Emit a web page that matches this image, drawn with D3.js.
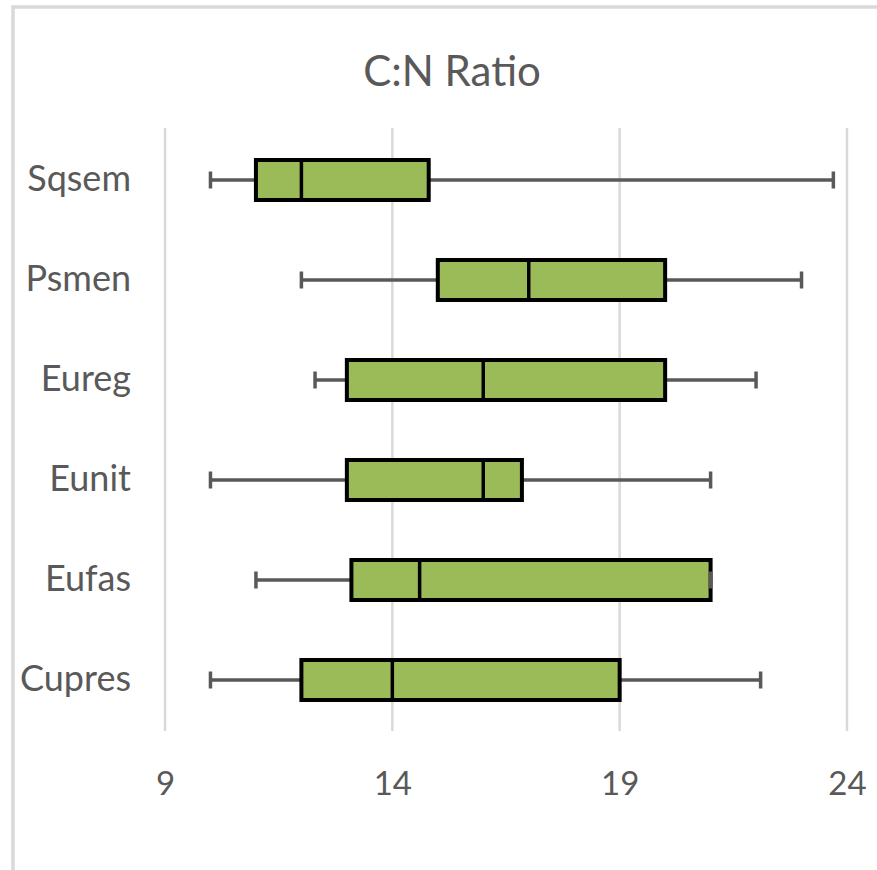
<!DOCTYPE html>
<html>
<head>
<meta charset="utf-8">
<script src="https://cdn.jsdelivr.net/npm/d3@7"></script>
<style>
  body { margin: 0; background: #fff; }
  svg { display: block; font-family: Lato, "Open Sans", sans-serif; }
</style>
</head>
<body>
<svg width="877" height="870"></svg>
<script>
// C:N ratio box plots
const categories = ["Sqsem", "Psmen", "Eureg", "Eunit", "Eufas", "Cupres"];
const mins    = [10,   12, 12.3, 10,    11,   10];
const q1s     = [11,   15, 13,   13,    13.1, 12];
const medians = [12,   17, 16,   16,    14.6, 14];
const q3s     = [14.8, 20, 20,   16.85, 21,   19];
const maxs    = [23.7, 23, 22,   21,    21,   22.1];
const xTicks = [9, 14, 19, 24];

const rows = categories.map((c, i) => ({
    name: c, min: mins[i], q1: q1s[i], med: medians[i], q3: q3s[i], max: maxs[i]
}));

const svg = d3.select("svg");
const textCol = "#595959";

const x = d3.scaleLinear().domain([9, 24]).range([165, 847]);
const y = d3.scaleBand().domain(categories).range([130, 730]);
const boxH = y.bandwidth() * 0.4;
const capH = 17;

// chart frame (only top/left edges show)
svg.append("path")
    .attr("d", "M13,870 V7 H877")
    .attr("fill", "none")
    .attr("stroke", "#d9d9d9")
    .attr("stroke-width", 3.5);

svg.append("text")
    .attr("x", 452).attr("y", 86)
    .attr("text-anchor", "middle")
    .attr("font-size", 42)
    .attr("fill", textCol)
    .text("C:N Ratio");

// gridlines
svg.append("g").selectAll("line.grid")
    .data(xTicks)
    .join("line")
    .classed("grid", true)
    .attr("x1", d => x(d)).attr("x2", d => x(d))
    .attr("y1", 128).attr("y2", 731)
    .attr("stroke", "#d9d9d9")
    .attr("stroke-width", 2.5);

// x axis labels via d3 axis, domain/ticks hidden
const xAxis = svg.append("g")
    .attr("transform", "translate(0,772)")
    .call(d3.axisBottom(x).tickValues(xTicks).tickSize(0).tickPadding(0));
xAxis.select(".domain").remove();
xAxis.selectAll("text")
    .attr("font-size", 33)
    .attr("font-family", "Lato, sans-serif")
    .attr("fill", textCol)
    .attr("dy", "0.71em");

// category labels via d3 axis
const yAxis = svg.append("g")
    .attr("transform", "translate(131,0)")
    .call(d3.axisLeft(y).tickSize(0).tickPadding(0));
yAxis.select(".domain").remove();
yAxis.selectAll("text")
    .attr("font-size", 36)
    .attr("font-family", "Lato, sans-serif")
    .attr("fill", textCol)
    .attr("dy", "0.3em");

const g = svg.append("g");
const cy = d => y(d.name) + y.bandwidth() / 2;

// whisker lines
g.selectAll("line.wlo").data(rows).join("line").classed("wlo", true)
    .attr("x1", d => x(d.min)).attr("x2", d => x(d.q1))
    .attr("y1", cy).attr("y2", cy)
    .attr("stroke", "#595959").attr("stroke-width", 3.5);
g.selectAll("line.whi").data(rows).join("line").classed("whi", true)
    .attr("x1", d => x(d.q3)).attr("x2", d => x(d.max))
    .attr("y1", cy).attr("y2", cy)
    .attr("stroke", "#595959").attr("stroke-width", 3.5);

// boxes
g.selectAll("rect.box").data(rows).join("rect").classed("box", true)
    .attr("x", d => x(d.q1))
    .attr("width", d => x(d.q3) - x(d.q1))
    .attr("y", d => cy(d) - boxH / 2)
    .attr("height", boxH)
    .attr("fill", "#9bbb59")
    .attr("stroke", "#000")
    .attr("stroke-width", 4);

g.selectAll("line.med").data(rows).join("line").classed("med", true)
    .attr("x1", d => x(d.med)).attr("x2", d => x(d.med))
    .attr("y1", d => cy(d) - boxH / 2).attr("y2", d => cy(d) + boxH / 2)
    .attr("stroke", "#000").attr("stroke-width", 3.5);

// caps
["min", "max"].forEach(k => {
    g.selectAll("line.cap-" + k).data(rows).join("line").classed("cap-" + k, true)
        .attr("x1", d => x(d[k])).attr("x2", d => x(d[k]))
        .attr("y1", d => cy(d) - capH / 2).attr("y2", d => cy(d) + capH / 2)
        .attr("stroke", "#595959").attr("stroke-width", 3.5);
});
</script>
</body>
</html>
